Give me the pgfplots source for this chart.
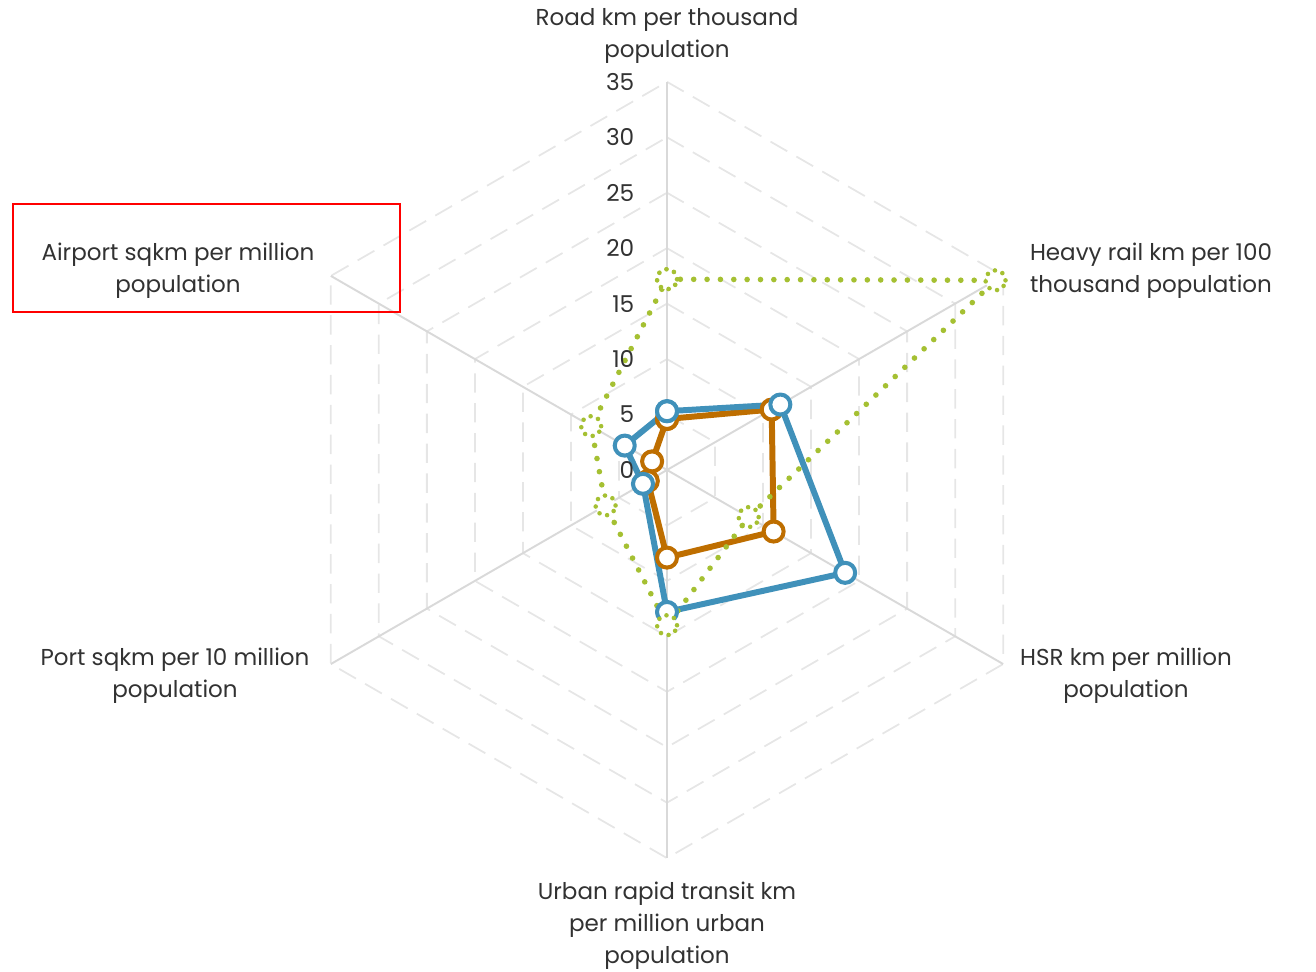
\documentclass[border=0pt]{standalone}
\usepackage{pgfplots}
\pgfplotsset{compat=1.18}
\usepackage{fontspec}
\setmainfont{Poppins}
\definecolor{cblue}{RGB}{64,145,186}
\definecolor{corange}{RGB}{190,110,0}
\definecolor{cgreen}{RGB}{165,192,50}
\definecolor{ctext}{RGB}{50,50,50}
\definecolor{cspoke}{RGB}{217,217,217}
\definecolor{cgrid}{RGB}{230,230,230}
\begin{document}
\begin{tikzpicture}
\begin{axis}[name=ax, width=13.16cm, height=9.71cm, scale only axis, hide axis,
  xmin=-60.14, xmax=58.52, ymin=-45.18, ymax=42.38, clip=false]
% grid rings
\addplot[cgrid, line width=0.5pt, dash pattern=on 5.5pt off 3pt, data cs=polar] coordinates {(90,5)(30,5)(-30,5)(-90,5)(-150,5)(150,5)(90,5)};
\addplot[cgrid, line width=0.5pt, dash pattern=on 5.5pt off 3pt, data cs=polar] coordinates {(90,10)(30,10)(-30,10)(-90,10)(-150,10)(150,10)(90,10)};
\addplot[cgrid, line width=0.5pt, dash pattern=on 5.5pt off 3pt, data cs=polar] coordinates {(90,15)(30,15)(-30,15)(-90,15)(-150,15)(150,15)(90,15)};
\addplot[cgrid, line width=0.5pt, dash pattern=on 5.5pt off 3pt, data cs=polar] coordinates {(90,20)(30,20)(-30,20)(-90,20)(-150,20)(150,20)(90,20)};
\addplot[cgrid, line width=0.5pt, dash pattern=on 5.5pt off 3pt, data cs=polar] coordinates {(90,25)(30,25)(-30,25)(-90,25)(-150,25)(150,25)(90,25)};
\addplot[cgrid, line width=0.5pt, dash pattern=on 5.5pt off 3pt, data cs=polar] coordinates {(90,30)(30,30)(-30,30)(-90,30)(-150,30)(150,30)(90,30)};
\addplot[cgrid, line width=0.5pt, dash pattern=on 5.5pt off 3pt, data cs=polar] coordinates {(90,35)(30,35)(-30,35)(-90,35)(-150,35)(150,35)(90,35)};
% spokes
\addplot[cspoke, line width=0.55pt, data cs=polar] coordinates {(90,0)(90,35)};
\addplot[cspoke, line width=0.55pt, data cs=polar] coordinates {(30,0)(30,35)};
\addplot[cspoke, line width=0.55pt, data cs=polar] coordinates {(-30,0)(-30,35)};
\addplot[cspoke, line width=0.55pt, data cs=polar] coordinates {(-90,0)(-90,35)};
\addplot[cspoke, line width=0.55pt, data cs=polar] coordinates {(-150,0)(-150,35)};
\addplot[cspoke, line width=0.55pt, data cs=polar] coordinates {(150,0)(150,35)};
% orange series
\addplot[corange, line width=1.7pt, line join=round, mark=*, mark size=2.85pt,
  mark options={fill=white, draw=corange, line width=1.15pt}, data cs=polar]
  coordinates {(90,4.6)(30,10.9)(-30,11.1)(-90,7.9)(-150,2.0)(150,1.55)(90,4.6)};
% blue series
\addplot[cblue, line width=1.7pt, line join=round, mark=*, mark size=2.85pt,
  mark options={fill=white, draw=cblue, line width=1.15pt}, data cs=polar]
  coordinates {(90,5.3)(30,11.8)(-30,18.55)(-90,12.8)(-150,2.5)(150,4.4)(90,5.3)};
% green series
\addplot[cgreen, line width=1.6pt, line cap=round, dash pattern=on 0pt off 3.8pt, mark=*, mark size=2.85pt,
  mark options={fill=white, draw=cgreen, line width=1.3pt, line cap=round, dash pattern=on 0pt off 2.3pt}, data cs=polar]
  coordinates {(90,17.2)(30,34.2)(-30,8.5)(-90,14.0)(-150,6.4)(150,7.9)(90,17.2)};
% tick labels
\node[anchor=east, text=ctext, font=\fontsize{6.6}{8}\selectfont, inner sep=0pt] at (axis cs:-2.885,0) {0};
\node[anchor=east, text=ctext, font=\fontsize{6.6}{8}\selectfont, inner sep=0pt] at (axis cs:-2.885,5) {5};
\node[anchor=east, text=ctext, font=\fontsize{6.6}{8}\selectfont, inner sep=0pt] at (axis cs:-2.885,10) {10};
\node[anchor=east, text=ctext, font=\fontsize{6.6}{8}\selectfont, inner sep=0pt] at (axis cs:-2.885,15) {15};
\node[anchor=east, text=ctext, font=\fontsize{6.6}{8}\selectfont, inner sep=0pt] at (axis cs:-2.885,20) {20};
\node[anchor=east, text=ctext, font=\fontsize{6.6}{8}\selectfont, inner sep=0pt] at (axis cs:-2.885,25) {25};
\node[anchor=east, text=ctext, font=\fontsize{6.6}{8}\selectfont, inner sep=0pt] at (axis cs:-2.885,30) {30};
\node[anchor=east, text=ctext, font=\fontsize{6.6}{8}\selectfont, inner sep=0pt] at (axis cs:-2.885,35) {35};
% category labels
\node[align=center, text=ctext, font=\fontsize{6.55}{9.1}\selectfont] at (axis cs:0,39.15) {Road km per thousand\\population};
\node[align=center, text=ctext, font=\fontsize{6.55}{9.1}\selectfont] at (axis cs:43.64,17.95) {Heavy rail km per 100\\thousand population};
\node[align=center, text=ctext, font=\fontsize{6.55}{9.1}\selectfont] at (axis cs:41.39,-18.55) {HSR km per million\\population};
\node[align=center, text=ctext, font=\fontsize{6.55}{9.1}\selectfont] at (axis cs:0,-41.1) {Urban rapid transit km\\per million urban\\population};
\node[align=center, text=ctext, font=\fontsize{6.55}{9.1}\selectfont] at (axis cs:-44.36,-18.55) {Port sqkm per 10 million\\population};
\node[align=center, text=ctext, font=\fontsize{6.55}{9.1}\selectfont] at (axis cs:-44.09,17.95) {Airport sqkm per million\\population};
\draw[red, line width=0.55pt] (axis cs:-58.97,23.99) rectangle (axis cs:-24.08,14.25);
\end{axis}
\pgfresetboundingbox
\useasboundingbox (ax.south west) rectangle (ax.north east);
\end{tikzpicture}
\end{document}
